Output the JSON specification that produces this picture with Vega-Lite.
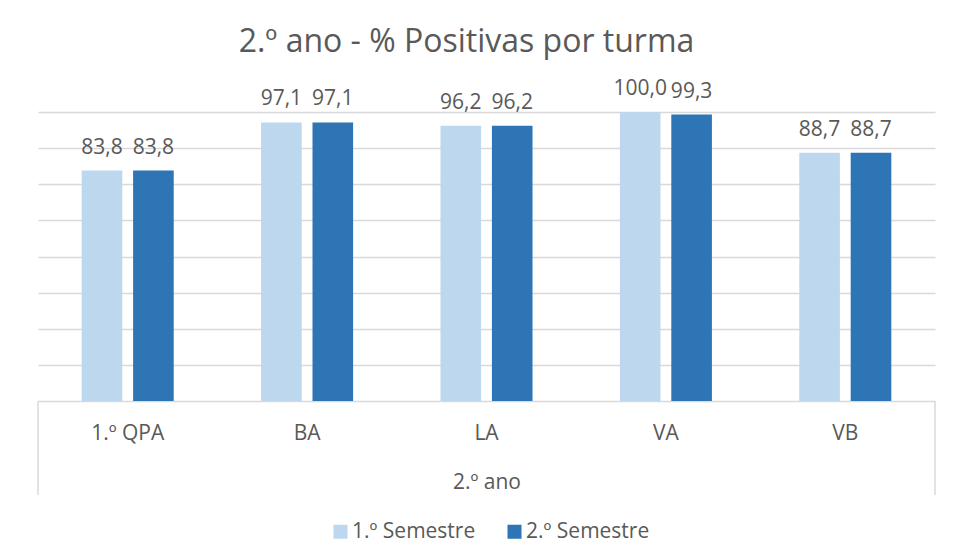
{
  "$schema": "https://vega.github.io/schema/vega-lite/v6.json",
  "width": 897,
  "height": 289,
  "autosize": {"type": "none"},
  "padding": {"left": 38, "top": 112, "right": 22, "bottom": 159},
  "background": "white",
  "config": {
    "view": {"stroke": null},
    "locale": {"number": {"decimal": ",", "thousands": ".", "grouping": [3], "currency": ["", " €"]}}
  },
  "title": {
    "text": "2.º ano - % Positivas por turma",
    "font": "Open Sans",
    "fontSize": 32,
    "fontWeight": "normal",
    "color": "#595959",
    "anchor": "middle",
    "dx": -20,
    "dy": 8,
    "offset": 2,
    "baseline": "alphabetic"
  },
  "data": {
    "values": [
      {"turma": "1.º QPA", "semestre": "1.º Semestre", "valor": 83.8},
      {"turma": "1.º QPA", "semestre": "2.º Semestre", "valor": 83.8},
      {"turma": "BA", "semestre": "1.º Semestre", "valor": 97.1},
      {"turma": "BA", "semestre": "2.º Semestre", "valor": 97.1},
      {"turma": "LA", "semestre": "1.º Semestre", "valor": 96.2},
      {"turma": "LA", "semestre": "2.º Semestre", "valor": 96.2},
      {"turma": "VA", "semestre": "1.º Semestre", "valor": 100.0},
      {"turma": "VA", "semestre": "2.º Semestre", "valor": 99.3},
      {"turma": "VB", "semestre": "1.º Semestre", "valor": 88.7},
      {"turma": "VB", "semestre": "2.º Semestre", "valor": 88.7}
    ]
  },
  "layer": [
    {
      "encoding": {
        "x": {
          "field": "turma",
          "type": "nominal",
          "sort": null,
          "scale": {"paddingInner": 0.487, "paddingOuter": 0.2435},
          "axis": {
            "title": "2.º ano",
            "labelAngle": 0,
            "ticks": false,
            "tickSize": 0,
            "domainColor": "#d9d9d9",
            "domainWidth": 1.5,
            "labelFont": "Open Sans",
            "labelFontSize": 21,
            "labelColor": "#595959",
            "labelBaseline": "alphabetic",
            "labelPadding": 38,
            "titleFont": "Open Sans",
            "titleFontSize": 21,
            "titleFontWeight": "normal",
            "titleColor": "#595959",
            "titleBaseline": "alphabetic",
            "titlePadding": 45
          }
        },
        "xOffset": {
          "field": "semestre",
          "type": "nominal",
          "sort": null,
          "scale": {"paddingInner": 0.21, "paddingOuter": 0}
        },
        "y": {
          "field": "valor",
          "type": "quantitative",
          "scale": {"domain": [20, 100], "nice": false, "zero": false},
          "axis": {
            "title": null,
            "labels": false,
            "ticks": false,
            "domain": false,
            "grid": true,
            "values": [30, 40, 50, 60, 70, 80, 90, 100],
            "gridColor": "#d9d9d9",
            "gridWidth": 1.5
          }
        }
      },
      "layer": [
        {
          "mark": {"type": "bar"},
          "encoding": {
            "y2": {"datum": 20},
            "color": {
              "field": "semestre",
              "type": "nominal",
              "sort": null,
              "scale": {"range": ["#BDD7EE", "#2E75B6"]},
              "legend": {
                "title": null,
                "orient": "none",
                "legendX": 292,
                "legendY": 409,
                "direction": "horizontal",
                "symbolType": "square",
                "symbolSize": 196,
                "symbolStrokeWidth": 0,
                "labelFont": "Open Sans",
                "labelFontSize": 21,
                "labelColor": "#595959",
                "labelOffset": 1,
                "columnPadding": 28,
                "padding": 0
              }
            }
          }
        },
        {
          "mark": {
            "type": "text",
            "baseline": "alphabetic",
            "dy": -17,
            "font": "Open Sans",
            "fontSize": 21,
            "color": "#595959"
          },
          "encoding": {
            "text": {"field": "valor", "type": "quantitative", "format": ".1f"}
          }
        }
      ]
    },
    {
      "data": {"values": [{"borda": 0}, {"borda": 1}]},
      "mark": {"type": "rule", "color": "#d9d9d9", "strokeWidth": 1.5},
      "encoding": {
        "x": {"field": "borda", "type": "quantitative", "scale": {"domain": [0, 1], "nice": false}, "axis": null},
        "y": {"datum": 20},
        "y2": {"datum": -6}
      }
    }
  ],
  "resolve": {"scale": {"x": "independent"}}
}
